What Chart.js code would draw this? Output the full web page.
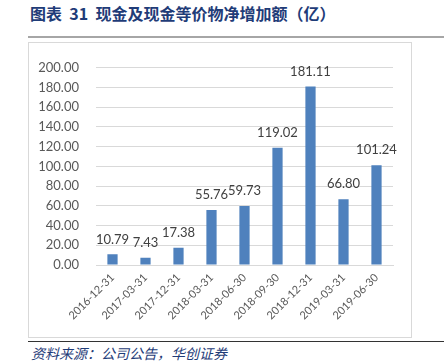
<!DOCTYPE html>
<html><head><meta charset="utf-8">
<script src="https://cdn.jsdelivr.net/npm/chart.js@4.4.0/dist/chart.umd.min.js"></script>
<style>
html,body{margin:0;padding:0;background:#fff;width:444px;height:364px;overflow:hidden;position:relative;}
#title{position:absolute;left:30px;top:3px;font-family:"Noto Sans CJK SC";font-weight:bold;font-size:16px;color:#1F3C78;white-space:pre;line-height:20px;}
#tline{position:absolute;left:28px;top:36px;width:416px;height:2px;background:#A6A6A6;}
#box{position:absolute;left:28px;top:42px;width:382px;height:294px;border:1px solid #D9D9D9;}
#cv{position:absolute;left:29px;top:43px;}
#bline{position:absolute;left:28px;top:341px;width:416px;height:1px;background:#333;}
#foot{position:absolute;left:31px;top:344px;font-family:"Noto Sans CJK SC";font-style:italic;font-size:14px;color:#1F3C78;white-space:nowrap;line-height:18px;}
</style></head>
<body>
<div id="title">图表  31  现金及现金等价物净增加额（亿）</div>
<div id="tline"></div>
<div id="box"></div>
<canvas id="cv" width="382" height="294" style="width:382px;height:294px"></canvas>
<div id="bline"></div>
<div id="foot">资料来源：公司公告，华创证券</div>
<script>
const categories = ["2016-12-31","2017-03-31","2017-12-31","2018-03-31","2018-06-30","2018-09-30","2018-12-31","2019-03-31","2019-06-30"];
const values = [10.79, 7.43, 17.38, 55.76, 59.73, 119.02, 181.11, 66.80, 101.24];
const yTicks = [0,20,40,60,80,100,120,140,160,180,200];

const labelPlugin = {
  id: 'valueLabels',
  afterDatasetsDraw(chart) {
    const ctx = chart.ctx;
    const meta = chart.getDatasetMeta(0);
    ctx.save();
    ctx.font = '13px Lato';
    ctx.fillStyle = '#404040';
    ctx.textAlign = 'center';
    ctx.textBaseline = 'middle';
    meta.data.forEach((bar, i) => {
      ctx.fillText(values[i].toFixed(2), bar.x, bar.y - 15);
    });
    ctx.restore();
  }
};

new Chart(document.getElementById('cv'), {
  type: 'bar',
  data: { labels: categories, datasets: [{ data: values, backgroundColor: '#4F81BD', barPercentage: 0.31, categoryPercentage: 1.0 }] },
  options: {
    responsive: false, animation: false,
    layout: { padding: { top: 17, right: 18, left: 0, bottom: 0 } },
    plugins: { legend: { display: false }, tooltip: { enabled: false } },
    scales: {
      x: {
        grid: { display: false, drawTicks: false },
        border: { display: true, color: '#D9D9D9' },
        ticks: { color: '#595959', font: { family: 'Lato', size: 11 }, minRotation: 45, maxRotation: 45, padding: 6, autoSkip: false },
        afterFit: s => { s.height = 72; }
      },
      y: {
        min: 0, max: 200,
        afterBuildTicks: s => { s.ticks = yTicks.map(v => ({ value: v })); },
        grid: { color: '#D9D9D9', drawTicks: false },
        border: { display: false },
        ticks: { color: '#595959', font: { family: 'Lato', size: 13 }, padding: 17, callback: v => Number(v).toFixed(2) },
        afterFit: s => { s.width = 67; }
      }
    }
  },
  plugins: [labelPlugin]
});
</script>
</body></html>
